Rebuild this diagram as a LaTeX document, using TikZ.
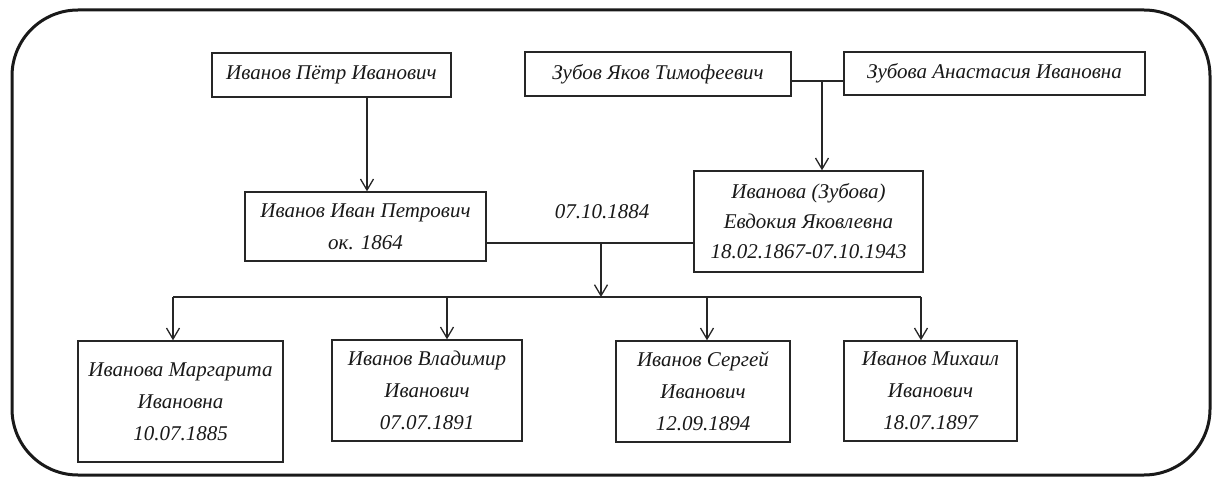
\documentclass[tikz,border=0pt]{standalone}
\usepackage{fontspec}
\setmainfont{Liberation Serif}
\usetikzlibrary{arrows.meta,calc}
\tikzset{
  person/.style={draw=black!85, line width=1.4pt, align=center, inner sep=0pt,
    font=\fontsize{21}{32}\selectfont\itshape, text=black!90},
  link/.style={draw=black!85, line width=1.3pt},
  arr/.style={link, -{Straight Barb[length=11pt,width=13pt,line width=1.3pt]}},
  frame/.style={line width=3pt, rounded corners=66pt, draw=black!90}
}
\begin{document}
\begin{tikzpicture}[x=1pt,y=-1pt]
\useasboundingbox (0,0) rectangle (1213,478);
\draw[frame] (12,10) rectangle (1210,475);
% parents' generation
\node[person, minimum width=239pt, minimum height=44pt] (p)  at (331.5,75) {Иванов Пётр Иванович};
\node[person, minimum width=266pt, minimum height=44pt] (zy) at (658,74) {Зубов Яков Тимофеевич};
\node[person, minimum width=301pt, minimum height=43pt] (za) at (994.5,73.5) {Зубова Анастасия Ивановна};
% couple
\node[person, minimum width=241pt, minimum height=69pt] (ii) at (365.5,226.5) {Иванов Иван Петрович\\ок. 1864};
\node[person, minimum width=229pt, minimum height=101pt, font=\fontsize{21}{30}\selectfont\itshape] (ev) at (808.5,221.5) {Иванова (Зубова)\\Евдокия Яковлевна\\18.02.1867-07.10.1943};
\node[font=\fontsize{21}{26}\selectfont\itshape, text=black!90] (date) at (602,212) {07.10.1884};
% children
\node[person, minimum width=205pt, minimum height=121pt] (c1) at (180.5,401.5) {Иванова Маргарита\\Ивановна\\10.07.1885};
\node[person, minimum width=190pt, minimum height=101pt] (c2) at (427,390.5) {Иванов Владимир\\Иванович\\07.07.1891};
\node[person, minimum width=174pt, minimum height=101pt] (c3) at (703,391.5) {Иванов Сергей\\Иванович\\12.09.1894};
\node[person, minimum width=173pt, minimum height=100pt] (c4) at (930.5,391) {Иванов Михаил\\Иванович\\18.07.1897};
% connectors
\coordinate (pa) at (367,0);
\draw[arr] (pa |- p.south) -- (pa |- ii.north);
\coordinate (zm) at (822,81);
\draw[link] (zy.east |- zm) -- (za.west |- zm);
\draw[arr] (zm) -- (zm |- ev.north);
\coordinate (mm) at (601,243);
\coordinate (bar) at (601,297);
\draw[link] (ii.east |- mm) -- (ev.west |- mm);
\draw[arr] (mm) -- (bar);
\coordinate (b1) at (173,297);
\coordinate (b2) at (447,297);
\coordinate (b3) at (707,297);
\coordinate (b4) at (921,297);
\draw[link] (b1) -- (b4);
\draw[arr] (b1) -- (b1 |- c1.north);
\draw[arr] (b2) -- (b2 |- c2.north);
\draw[arr] (b3) -- (b3 |- c3.north);
\draw[arr] (b4) -- (b4 |- c4.north);
\end{tikzpicture}
\end{document}
